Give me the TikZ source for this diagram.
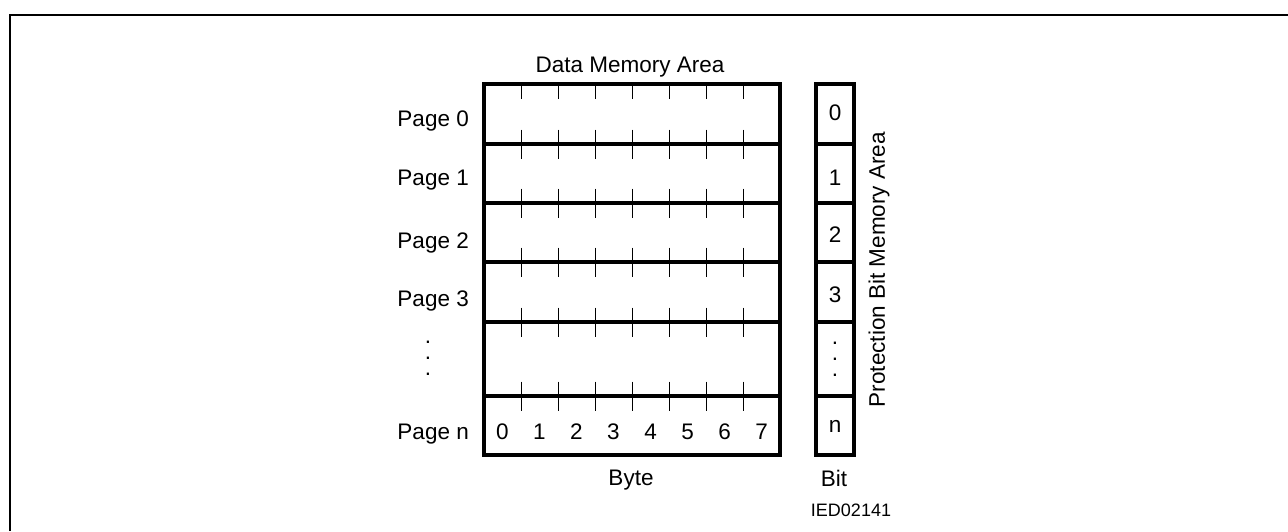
\documentclass[tikz,border=0pt]{standalone}
\usepackage{fontspec}
\setmainfont{Liberation Sans}
\begin{document}
\begin{tikzpicture}[x=1pt,y=-1pt,
  box/.style={line width=3.5pt},
  tickline/.style={line width=1pt},
  frameline/.style={line width=2pt},
  lbl/.style={font=\fontsize{22.5}{27}\selectfont, inner sep=0pt},
  dots/.style={font=\fontsize{22.5}{16}\selectfont, inner sep=0pt, align=center},
  small/.style={font=\fontsize{18}{22}\selectfont, inner sep=0pt}]
\useasboundingbox (0,0) rectangle (1288,531);
% outer frame (only top and left edges visible)
\draw[frameline] (10,531) -- (10,15) -- (1288,15);

% data memory area
\draw[box] (484,84) rectangle (780,455);
\foreach \y in {144,203,262,322,396} \draw[box] (484,\y) -- (780,\y);
\foreach \k in {1,...,7} {
  \draw[tickline] (484+37*\k,84) -- (484+37*\k,99);
  \foreach \y in {144,203,262,322,396}
    \draw[tickline] (484+37*\k,\y-14.5) -- (484+37*\k,\y+14.5);
}

% protection bit memory area
\draw[box] (816,84) rectangle (854,455);
\foreach \y in {144,203,262,322,396} \draw[box] (816,\y) -- (854,\y);

% titles
\node[lbl, anchor=base] (dtitle) at (630,72) {Data Memory Area};
\node[lbl, anchor=base] (byte) at (631,485) {Byte};
\node[lbl, anchor=base] (bit) at (834,486) {Bit};
\node[small, anchor=base] (ied) at (851,516) {IED02141};
\node[lbl, rotate=90, anchor=center] (ptitle) at (879,269.5) {Protection Bit Memory Area};

% page labels
\node[lbl, anchor=base east] (pg0) at (469,126) {Page 0};
\node[lbl, anchor=base east] (pg1) at (469,185) {Page 1};
\node[lbl, anchor=base east] (pg2) at (469,248) {Page 2};
\node[lbl, anchor=base east] (pg3) at (469,306) {Page 3};
\node[lbl, anchor=base east] (pgn) at (469,439) {Page n};
\node[dots, anchor=south] (ldots) at (428,375.5) {.\\.\\.};

% byte numbers
\foreach \k in {0,...,7}
  \node[lbl, anchor=base] (b\k) at (502.5+37*\k,439) {\k};

% protection bits
\node[lbl, anchor=base] (pb0) at (835,120) {0};
\node[lbl, anchor=base] (pb1) at (835,185) {1};
\node[lbl, anchor=base] (pb2) at (835,242) {2};
\node[lbl, anchor=base] (pb3) at (835,302) {3};
\node[dots, anchor=south] (pbdots) at (835,376.5) {.\\.\\.};
\node[lbl, anchor=base] (pbn) at (835,432) {n};
\end{tikzpicture}
\end{document}
